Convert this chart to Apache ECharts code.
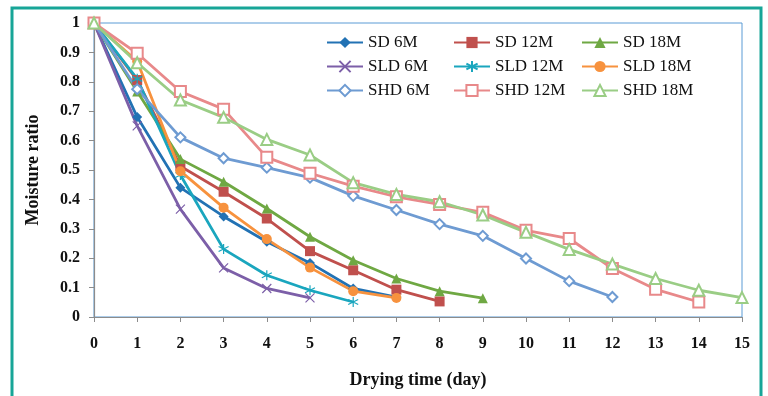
<!DOCTYPE html>
<html><head><meta charset="utf-8">
<script src="https://cdn.jsdelivr.net/npm/echarts@6/dist/echarts.min.js"></script>
<style>html,body{margin:0;padding:0;background:#fff}#c{width:768px;height:396px}</style>
</head><body><div id="c"></div>
<script>
var seriesNames = ['SD 6M','SD 12M','SD 18M','SLD 6M','SLD 12M','SLD 18M','SHD 6M','SHD 12M','SHD 18M'];
var sd6   = [1, 0.68, 0.44, 0.342, 0.256, 0.184, 0.097, 0.068];
var sd12  = [1, 0.806, 0.513, 0.426, 0.335, 0.224, 0.159, 0.093, 0.053];
var sd18  = [1, 0.767, 0.537, 0.46, 0.369, 0.273, 0.193, 0.131, 0.088, 0.064];
var sld6  = [1, 0.65, 0.367, 0.167, 0.097, 0.065];
var sld12 = [1, 0.81, 0.483, 0.231, 0.142, 0.091, 0.051];
var sld18 = [1, 0.87, 0.496, 0.372, 0.265, 0.168, 0.088, 0.065];
var shd6  = [1, 0.775, 0.611, 0.54, 0.508, 0.474, 0.412, 0.364, 0.316, 0.276, 0.199, 0.122, 0.068];
var shd12 = [1, 0.897, 0.767, 0.707, 0.543, 0.489, 0.445, 0.409, 0.383, 0.356, 0.295, 0.267, 0.165, 0.094, 0.051];
var shd18 = [1, 0.865, 0.738, 0.679, 0.604, 0.551, 0.457, 0.417, 0.392, 0.347, 0.288, 0.230, 0.180, 0.131, 0.091, 0.066];
var xTicks = [0,1,2,3,4,5,6,7,8,9,10,11,12,13,14,15];
var yTicks = [0,0.1,0.2,0.3,0.4,0.5,0.6,0.7,0.8,0.9,1];

var allValues = [sd6, sd12, sd18, sld6, sld12, sld18, shd6, shd12, shd18];
var colors = ['#2272B4','#C0504D','#6FA843','#7C5FA8','#1AA6BE','#F7923E','#6E9BD2','#E8898A','#9ACD85'];
var symbols = ['diamond','rect','triangle',
  'path://M0,0L10,10M10,0L0,10',
  'path://M5,0L5,10M0.7,2.5L9.3,7.5M0.7,7.5L9.3,2.5',
  'circle','emptyDiamond','emptyRect','emptyTriangle'];
var sizes = [10,10,10,9,10,10,10,11,11];

function toPairs(arr){ return arr.map(function(v,i){ return [xTicks[i], v]; }); }

var serif = '"Liberation Serif","Times New Roman",serif';
var series = seriesNames.map(function(n, i){
  var isPath = symbols[i].indexOf('path://') === 0;
  var isEmpty = symbols[i].indexOf('empty') === 0;
  return {
    name: n, type: 'line', data: toPairs(allValues[i]),
    symbol: symbols[i], symbolSize: sizes[i], showAllSymbol: true,
    lineStyle: { color: colors[i], width: 2.8 },
    itemStyle: isPath ? { color: colors[i], borderColor: colors[i], borderWidth: 1.2 }
             : (isEmpty ? { color: colors[i], borderColor: colors[i], borderWidth: 1.6 }
                        : { color: colors[i], borderWidth: 0 }),
    emphasis: { disabled: true },
    animation: false
  };
});

function legendCol(names, left){
  return {
    data: names, orient: 'vertical', left: left, top: 34, padding: 0,
    itemWidth: 36, itemHeight: 14, itemGap: 7,
    textStyle: { fontFamily: serif, fontSize: 17, color: '#111', lineHeight: 14 },
    selectedMode: false
  };
}

var chart = echarts.init(document.getElementById('c'), null, { renderer: 'canvas' });
chart.setOption({
  animation: false,
  graphic: [{
    type: 'rect', shape: { x: 12, y: 8, width: 749, height: 400 },
    style: { fill: 'none', stroke: '#17A597', lineWidth: 3 }, z: 100
  }],
  legend: [
    legendCol(['SD 6M','SLD 6M','SHD 6M'], 326),
    legendCol(['SD 12M','SLD 12M','SHD 12M'], 453),
    legendCol(['SD 18M','SLD 18M','SHD 18M'], 581)
  ],
  grid: { left: 94, right: 26, top: 23, bottom: 79, show: true, borderColor: '#5B9BD5', borderWidth: 1, backgroundColor: 'transparent' },
  xAxis: {
    type: 'value', min: 0, max: 15, interval: 1,
    name: 'Drying time (day)', nameLocation: 'middle', nameGap: 54,
    nameTextStyle: { fontFamily: serif, fontSize: 18, fontWeight: 'bold', color: '#111' },
    axisLine: { show: true, lineStyle: { color: '#8C8C8C', width: 1.2 } },
    axisTick: { show: true, length: 5, lineStyle: { color: '#8C8C8C' } },
    axisLabel: { margin: 19, fontFamily: serif, fontSize: 16, fontWeight: 'bold', color: '#111',
      formatter: function(v){ return xTicks.indexOf(v) >= 0 ? String(v) : ''; } },
    splitLine: { show: false }
  },
  yAxis: {
    type: 'value', min: 0, max: 1, interval: 0.1,
    name: 'Moisture ratio', nameLocation: 'middle', nameGap: 52, nameRotate: 90,
    nameTextStyle: { fontFamily: serif, fontSize: 18, fontWeight: 'bold', color: '#111' },
    axisLine: { show: true, lineStyle: { color: '#8C8C8C', width: 1.2 } },
    axisTick: { show: true, length: 5, lineStyle: { color: '#8C8C8C' } },
    axisLabel: { margin: 14, fontFamily: serif, fontSize: 16, fontWeight: 'bold', color: '#111',
      formatter: function(v){ var r = Math.round(v*10)/10; for (var k=0;k<yTicks.length;k++){ if (Math.abs(yTicks[k]-r)<1e-9) return String(yTicks[k]); } return ''; } },
    splitLine: { show: false }
  },
  series: series
});
</script>
</body></html>
